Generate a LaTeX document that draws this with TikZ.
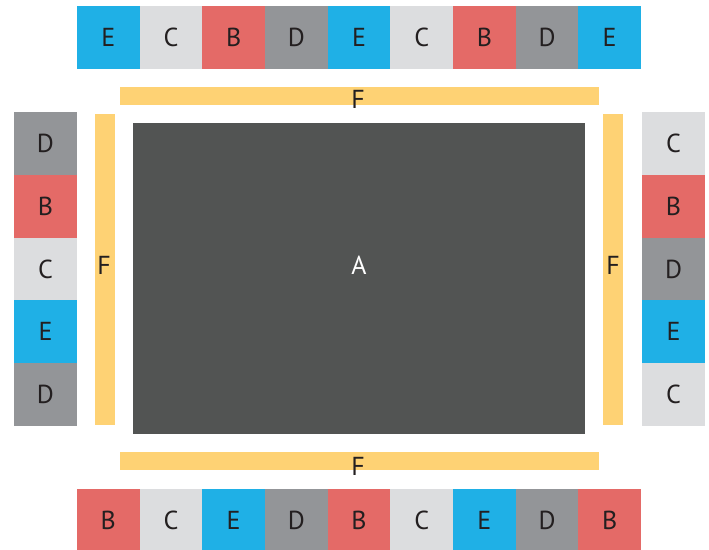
\documentclass[tikz,border=0pt]{standalone}
\usepackage{fontspec}
\setmainfont{PT Sans}
\usepackage{xcolor}
\usetikzlibrary{positioning}
\definecolor{cyanpad}{HTML}{1FB0E6}
\definecolor{lightpad}{HTML}{DCDDDF}
\definecolor{redpad}{HTML}{E46A67}
\definecolor{greypad}{HTML}{939598}
\definecolor{ring}{HTML}{FED274}
\definecolor{core}{HTML}{525453}
\definecolor{ink}{HTML}{231F20}
\tikzset{
  cell/.style={rectangle, inner sep=0pt, outer sep=0pt, text=ink, font=\fontsize{26}{28}\selectfont},
  cellB/.style={cell, fill=redpad},
  cellC/.style={cell, fill=lightpad},
  cellD/.style={cell, fill=greypad},
  cellE/.style={cell, fill=cyanpad},
  hcell/.style={minimum width=62.67pt, minimum height=63pt},
  vcell/.style={minimum width=63pt, minimum height=62.8pt},
  bar/.style={rectangle, fill=ring, inner sep=0pt, outer sep=0pt},
  die/.style={rectangle, fill=core, inner sep=0pt, outer sep=0pt},
  tag/.style={text=ink, font=\fontsize{26}{28}\selectfont}
}
\begin{document}
\begin{tikzpicture}[x=1pt, y=-1pt]
\useasboundingbox (0,0) rectangle (709,549);
% core
\node[die, minimum width=452pt, minimum height=311pt] (core) at (359,278.5) {};
\node[tag, text=white] (lcore) at (359,265) {A};
% ring bars
\node[bar, minimum width=479pt, minimum height=18pt] (ftop) at (359.5,96) {};
\node[bar, minimum width=479pt, minimum height=18pt] (fbot) at (359.5,461) {};
\node[bar, minimum width=20pt, minimum height=311pt] (fleft) at (105,269.5) {};
\node[bar, minimum width=20pt, minimum height=311pt] (fright) at (613,269.5) {};
\node[tag] (ltop) at (358,99) {F};
\node[tag] (lbot) at (358,466) {F};
\node[tag] (lleft) at (104,265) {F};
\node[tag] (lright) at (613,265) {F};
% pad rows
\foreach \l [count=\i] in {E,C,B,D,E,C,B,D,E}
  \node[cell\l, hcell] (t\i) at ({77+62.67*(\i-0.5)},37.5) {\l};
\foreach \l [count=\i] in {B,C,E,D,B,C,E,D,B}
  \node[cell\l, hcell] (b\i) at ({77+62.67*(\i-0.5)},520.5) {\l};
\foreach \l [count=\i] in {D,B,C,E,D}
  \node[cell\l, vcell] (l\i) at (45.5,{112+62.8*(\i-0.5)}) {\l};
\foreach \l [count=\i] in {C,B,D,E,C}
  \node[cell\l, vcell] (r\i) at (673.5,{112+62.8*(\i-0.5)}) {\l};
\end{tikzpicture}
\end{document}
